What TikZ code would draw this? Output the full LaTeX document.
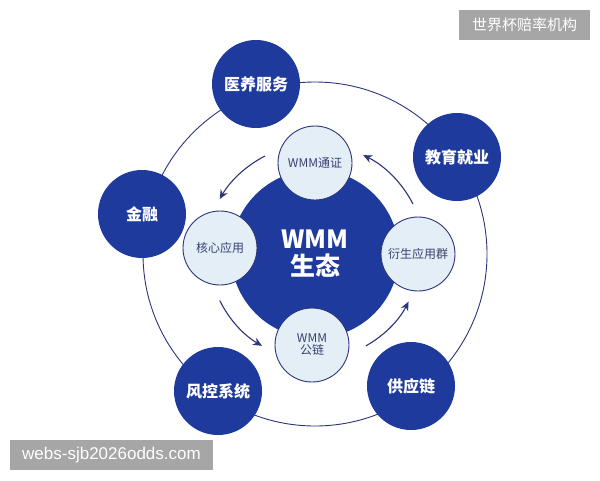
\documentclass[tikz,border=0pt]{standalone}
\usepackage{fontspec}
\setmainfont{Noto Sans CJK SC}
\newfontfamily\wmfont{Liberation Sans}
\usetikzlibrary{arrows.meta}
\definecolor{royal}{HTML}{1E3A9C}
\definecolor{navy}{HTML}{2B3578}
\definecolor{pale}{HTML}{E3EEF6}
\definecolor{wmgray}{HTML}{A6A6A6}
\definecolor{smalltext}{HTML}{3A4170}
\tikzset{
  outer/.style={circle,fill=royal,minimum size=88pt,inner sep=0pt,text=white,font=\fontsize{16}{19}\selectfont\bfseries},
  core/.style={circle,fill=royal,minimum size=168pt,inner sep=0pt,text=white,font=\fontsize{25}{30}\selectfont\bfseries,align=center},
  small/.style={circle,fill=pale,draw=navy,line width=0.9pt,minimum size=74pt,inner sep=0pt,text=smalltext,font=\fontsize{12}{14}\selectfont,align=center},
  ring/.style={draw=navy,line width=0.9pt},
  flow/.style={draw=navy,line width=1.1pt,-{Stealth[length=9pt,width=8pt]}},
  wm/.style={fill=wmgray,text=white,inner sep=0pt,minimum height=30pt,font=\fontsize{15}{18}\selectfont}
}
\begin{document}
\begin{tikzpicture}[x=1pt,y=-1pt]
\useasboundingbox[fill=white] (0,0) rectangle (600,480);
\coordinate (c) at (315,254);
\draw[ring] (c) circle[radius=172];
\node[outer] (yy) at (256,84) {医养服务};
\node[outer] (jy) at (457,157) {教育就业};
\node[outer] (jr) at (142,214) {金融};
\node[outer] (fk) at (218,391) {风控系统};
\node[outer] (gy) at (411,386) {供应链};
\node[core] (eco) at (c) {WMM\\[-3pt]生态};
\node[small] (tz) at (315,163) {WMM通证};
\node[small] (hx) at (220,248) {核心应用};
\node[small] (ys) at (418,254) {衍生应用群};
\node[small] (gl) at (312,345) {WMM\\[-2pt]公链};
\coordinate (a1) at ([shift={(-117:110)}]c);
\coordinate (a2) at ([shift={(-206:106)}]c);
\coordinate (a3) at ([shift={(-299:105)}]c);
\coordinate (a4) at ([shift={(-27:110)}]c);
\draw[flow] (a1) arc[start angle=-117,end angle=-150,radius=110];
\draw[flow] (a2) arc[start angle=-206,end angle=-240,radius=106];
\draw[flow] (a3) arc[start angle=-299,end angle=-333,radius=105];
\draw[flow] (a4) arc[start angle=-27,end angle=-64,radius=110];
\node[wm,minimum width=131pt] (wm1) at (524.5,25) {世界杯赔率机构};
\node[wm,minimum width=203pt,font=\wmfont\fontsize{17}{20}\selectfont] (wm2) at (111.5,455) {webs-sjb2026odds.com};
\end{tikzpicture}
\end{document}
